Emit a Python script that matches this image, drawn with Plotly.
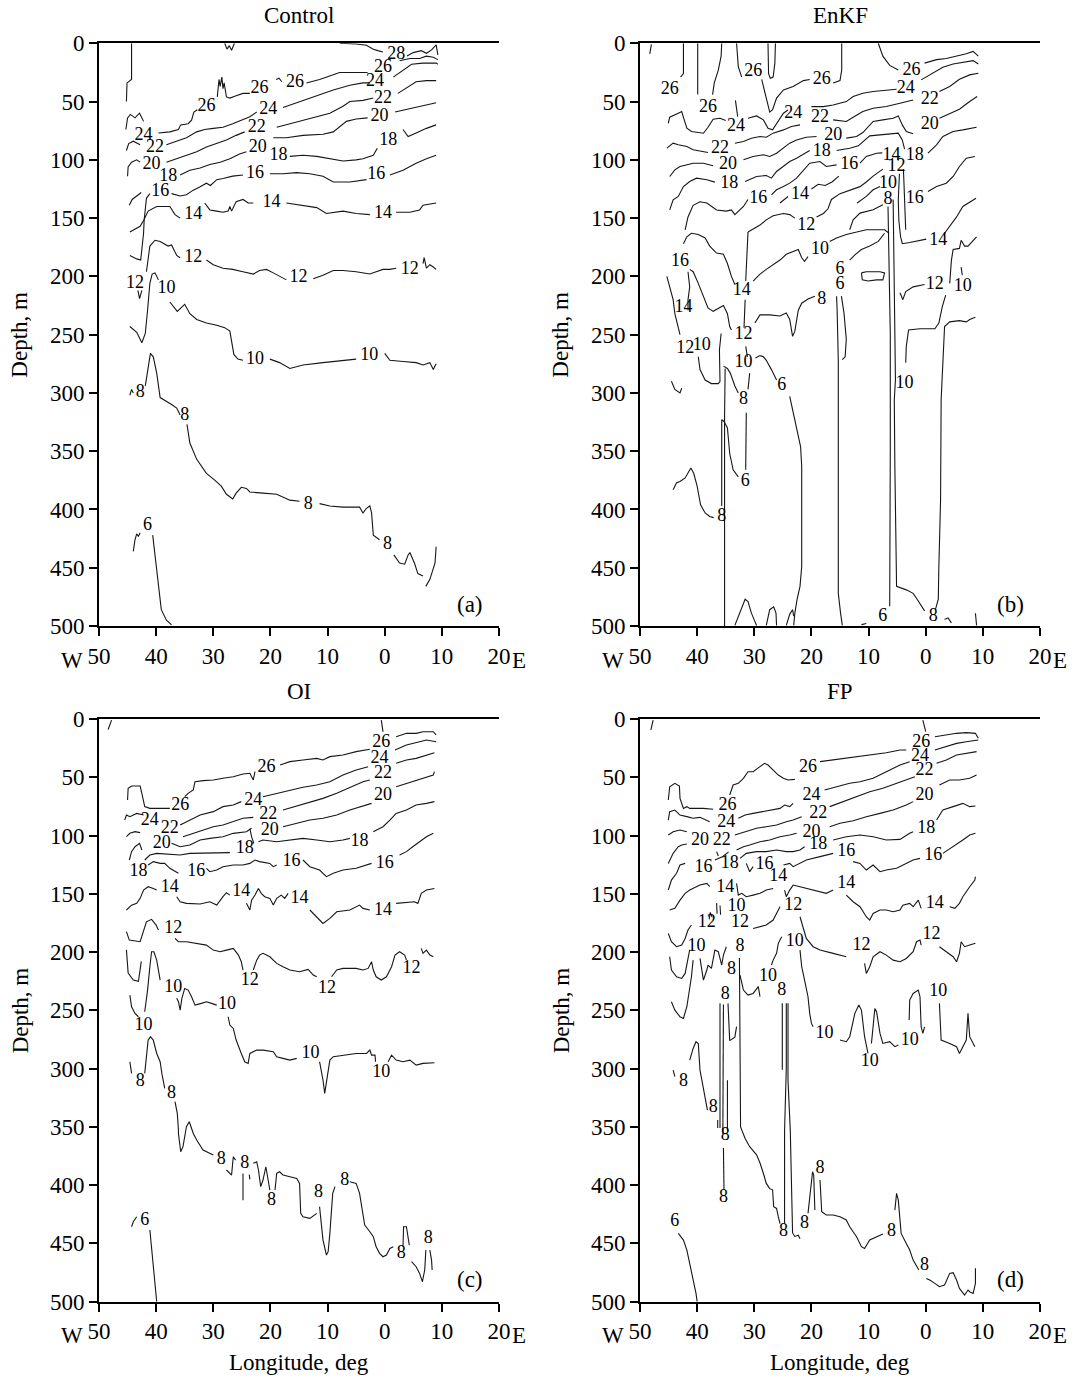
import plotly.graph_objects as go

# ---------------- Data: isotherm lines (longitude [E positive], depth m) ----------------
# Panel (a) Control
A_28 = [(-28,0),(-27.6,5),(-27.2,2),(-26.8,6),(-26.3,0), None,
        (-7.9,0),(-5,0.6),(-3.2,1.7),(-2,5.1),(-1.2,6.3),(-0.3,7.4), None,
        (3.9,10.9),(5,8),(6.4,6.3),(7.3,8.6),(8.2,5.7),(9,1.4),(9.3,10)]
A_26L = [(-44.3,0),(-44.3,31),(-45.1,34),(-45.2,50)]
A_26 = [(-45.3,74),(-45,64),(-44.5,61),(-43.7,64),(-42.9,60),(-42.2,67), None,
        (-39.6,77),(-37.6,76),(-36.1,74),(-35.7,70),(-34.4,69),(-33.8,66),(-33.4,59),(-32.8,57), None,
        (-29.3,46),(-29,31),(-28.8,37),(-28.5,29),(-28.3,39),(-28.1,34),(-27.7,46),(-27.1,47),(-26,45),(-24.8,43),(-23.6,43), None,
        (-19,31),(-18.5,30),(-18,33), None,
        (-13.7,34),(-11.4,31),(-9,27),(-7.9,25),(-5,25),(-3,25), None,
        (2.6,15),(4.4,13),(6.1,13),(7.3,11),(8.5,12),(9.3,14)]
A_24 = [(-45.2,92),(-44.8,86),(-44,84),(-42.8,87), None,
        (-38.2,87),(-36.4,84),(-34.7,81),(-32.9,76),(-31.5,74),(-30,73),(-28.3,72),(-26.6,69),(-24.8,65),(-23.6,63),(-22.4,59), None,
        (-17.8,55),(-15.4,51),(-13.1,47),(-10.8,43),(-9,40),(-6.1,36),(-3.8,34),(-2.6,34), None,
        (1.5,29),(3.2,23),(4.7,18),(6.7,17),(9,17),(9.3,18)]
A_22 = [(-45,114),(-44.9,106),(-44.3,102),(-43.4,100),(-42.8,102), None,
        (-38.2,102),(-36.4,99),(-34.7,96),(-32.9,93),(-31.2,89),(-29.4,86),(-27.7,83),(-26,79),(-24.5,76), None,
        (-18.9,72),(-16.6,69),(-14.3,66),(-11.9,63),(-9.6,60),(-7.3,54),(-6.1,50),(-3.8,49),(-2,47), None,
        (2.3,43),(4.1,37),(5.5,33),(7.3,32),(9,32)]
A_20 = [(-35.8,113),(-34.1,109),(-32.3,107),(-30.6,104),(-28.8,102),(-27.1,99),(-25.4,95),(-24.2,93), None,
        (-19.5,81),(-17.2,81),(-14.3,79),(-10.8,78),(-9,76),(-7.9,72),(-6.7,67),(-5,65),(-3,64), None,
        (1.8,59),(4.4,56),(6.7,53),(9,51)]
A_18 = [(-16.6,97),(-14.3,96),(-11.9,97),(-9.6,99),(-7.3,101),(-5,100),(-3.8,99),(-2,96),(-1.3,90), None,
        (3.2,74),(4.1,80),(5.5,77),(7.3,73),(9,70)]
A_16 = [(-44.6,182),(-43.4,185),(-42.7,186),(-42.5,177),(-42.2,163),(-42.1,152),(-41.9,140),(-41.7,133),(-41.1,129), None,
        (-37.3,129),(-35.8,131),(-34.7,130),(-33.5,126),(-32.3,123),(-31.2,120),(-30.5,122),(-29.4,117),(-28.3,116),(-26.6,114),(-24.8,113), None,
        (-20.1,112),(-17.8,112),(-15.4,111),(-13.1,112),(-10.8,114),(-9,119),(-6.1,119),(-3.2,117), None,
        (0.9,113),(3.2,109),(5.5,103),(7.3,99),(9,96)]
A_16B = [(-44.7,139),(-44.2,134),(-43.4,131),(-42.6,128)]
A_14 = [(-44.6,162),(-42.8,157),(-42.2,152),(-41.4,144),(-39.9,140),(-37.6,140),(-36.7,147),(-35.8,150), None,
        (-31.5,137),(-30.6,143),(-29.4,144),(-28.3,145),(-27.4,144),(-27.1,140),(-26.8,144),(-26,136),(-24.8,134),(-23.9,137),(-23,137), None,
        (-17.2,137),(-14.9,139),(-11.9,141),(-10.2,146),(-7.3,144),(-5,146),(-2.6,147), None,
        (2,145),(4.4,145),(6.1,143),(6.7,139),(9,137)]
A_12V = [(-43.2,212),(-42.9,219),(-42.5,212)]
A_12 = [(-41.7,196),(-41.4,184),(-41.1,174),(-40.2,169),(-39.3,170),(-37.9,174),(-37.3,173),(-36.4,182),(-35.8,184), None,
        (-31.2,186),(-30,190),(-28.3,193),(-26.6,194),(-24.8,196),(-23,198),(-21.9,195),(-20.7,194),(-19.5,197),(-18.4,200),(-17.2,203), None,
        (-12.5,202),(-10.8,199),(-9,195),(-7.3,195),(-5,196),(-2.6,198),(-1.5,196),(-0.3,194),(0.9,194),(2,193), None,
        (6.7,189),(6.9,184),(7.3,193),(7.9,190),(8.5,192),(9,194)]
A_10 = [(-44.6,243),(-43.4,248),(-42.5,257),(-41.9,249),(-41.5,229),(-41.1,206),(-40.7,198),(-40.2,197),(-39.6,203), None,
        (-37.6,222),(-36.3,230),(-35,224),(-34.1,232),(-32.9,237),(-31.2,240),(-29.4,242),(-28,244),(-27.1,247),(-26.8,257),(-26.4,267),(-25.7,271),(-24.8,272), None,
        (-20.1,271),(-18.4,274),(-16.6,279),(-14.3,276),(-10.8,274),(-7.3,272),(-5,271), None,
        (0,266),(0.9,272),(3.2,273),(5.5,274),(6.7,276),(7.9,274),(8.5,280),(9,275)]
A_8 = [(-44.6,302),(-44.3,297),(-44,300), None,
       (-41.9,294),(-41.3,274),(-41,266),(-40.5,269),(-39.9,283),(-39.3,304),(-38.2,307),(-37.3,310),(-36.4,313),(-35.8,319), None,
       (-34.6,327),(-34.1,343),(-32.9,357),(-31.2,369),(-29.7,375),(-28.6,380),(-27.7,387),(-26.6,391),(-26,386),(-25.1,381),(-24.2,382),(-23.6,385),(-21.3,386),(-18.9,387),(-16.6,392),(-14.9,393), None,
       (-11.4,395),(-9.6,397),(-7.3,398),(-4.4,398),(-3.8,403),(-3.2,399),(-2.6,397),(-2.3,403),(-2,422),(-0.9,426), None,
       (1.6,439),(2.6,446),(3.5,447),(4.1,439),(4.4,437),(5.2,446),(5.8,455),(6.7,457), None,
       (7.2,466),(7.9,460),(8.8,446),(9,432)]
A_6 = [(-44,436),(-43.7,426),(-43.4,421),(-43.1,423),(-42.8,420), None,
       (-40.6,422),(-40.2,440),(-39.6,466),(-39.1,486),(-38.2,495),(-37.3,499)]
A_LABELS = [("28",2.0,10),("26",-0.3,21),("24",-1.7,33),("22",-0.3,47),("20",-0.9,63),("18",0.6,83),
            ("16",-1.5,113),("14",-0.3,146),("12",4.4,194),("10",-2.7,268),("8",-13.4,396),("8",0.5,430),
            ("26",-31.2,54),("26",-21.9,39),("26",-15.7,34),("24",-42.2,79),("24",-20.4,57),("22",-40.2,89),
            ("22",-22.4,72),("20",-40.8,104),("20",-22.2,89),("18",-37.9,114),("18",-18.6,96),("16",-39.3,127),
            ("16",-22.7,112),("14",-33.5,147),("14",-19.8,137),("12",-43.7,206),("12",-33.5,184),("12",-15.1,201),
            ("10",-38.2,210),("10",-22.7,271),("8",-42.8,300),("8",-35,319),("6",-41.5,414)]

# Panel (b) EnKF
B_TOP = [(-48,1),(-48.3,9), None, (-42.4,0),(-42.4,26),(-42.9,29), None, (-39.9,0),(-39.9,44), None,
         (-35.7,0),(-35.8,11),(-36.3,23),(-37,34),(-37.3,44), None,
         (-27.6,0),(-27.5,26),(-27.2,30),(-26.7,29),(-26.4,17),(-26.3,0), None,
         (-33.3,49),(-32.9,63)]
B_26 = [(-33.1,0),(-32.8,20),(-32.2,29), None,
        (-28.7,31),(-27.9,46),(-27.3,59),(-26.8,57),(-26.1,47),(-24.9,40),(-23.2,37),(-21.4,32),(-20.3,31), None,
        (-16.2,34),(-15,32),(-14.7,23),(-14.7,0)]
B_26R = [(-8.3,0),(-7.5,11),(-6.3,19),(-4.8,23), None,
         (-0.2,17),(1.9,14),(3.6,13),(5.4,11),(7.1,9),(8.3,7),(9.2,11)]
B_24 = [(-45.05,68.6),(-44.8,63.4),(-43.3,60),(-42.7,58.6),(-42.3,65.1),(-41.8,72.9),(-41,75.7),(-38.9,77.2),(-38.1,72),(-37.2,65.1),(-36,64.3),(-35,66.3), None,
        (-31.1,64.3),(-29.6,62.3),(-28.4,65.7),(-27.6,72.9),(-26.8,74.3),(-26.1,68.6),(-24.9,60),(-24.1,57.2), None,
        (-20,54.3),(-17.9,54.3),(-16.2,52.9),(-13.9,50),(-12.7,45.7),(-11,42.9),(-9.2,41.4),(-6.9,40),(-5.1,39.4), None,
        (-0.8,31.4),(1.3,25.7),(3,20.6),(4.8,17.7),(6.5,16.3),(8.3,14.9),(9.2,17.7)]
B_22 = [(-45.3,90),(-44.2,85.7),(-43.3,87.1),(-41.8,88.6),(-40.7,91.4),(-39.2,92.9),(-38.1,93.7), None,
        (-33.4,85.7),(-31.9,84.3),(-30.5,81.4),(-29,80),(-27.9,80.6),(-26.7,77.1),(-24.9,74.3),(-23.5,71.4),(-22,70), None,
        (-16.2,65.7),(-13.9,67.1),(-12.7,63.4),(-11,58.6),(-9.2,55.7),(-6.9,54.3),(-4.5,51.4),(-2.2,48.6), None,
        (2.4,41.4),(4.2,37.1),(5.9,30.9),(7.7,27.1),(9.2,25.7)]
B_20 = [(-44.8,114.3),(-43.9,108.6),(-43,105.7),(-41.8,104.3),(-40.7,102.9),(-38.9,102.9),(-37.2,105.1), None,
        (-31.9,100),(-30.2,97.1),(-28.4,95.7),(-27.3,97.1),(-26.1,94.3),(-24.9,90),(-23.8,85.7),(-22.6,82.9),(-20.9,80.6),(-19.1,80), None,
        (-13.9,81.4),(-12.1,80),(-11,76.6),(-10.1,71.4),(-9.2,67.1),(-7.5,65.7),(-5.7,64.3),(-4.8,62.3),(-4.1,70),(-3.4,75.7),(-2.2,77.7), None,
        (2.4,64.3),(4.2,60.6),(5.9,56.6),(7.7,50),(9,45.7)]
B_18 = [(-44.8,142.9),(-44.2,134.3),(-43.3,131.4),(-42.4,122.9),(-41.3,118.6),(-40.1,115.7),(-38.3,117.1),(-36.9,119.1), None,
        (-31.6,118.6),(-29.6,114.3),(-27.9,113.4),(-27,115.7),(-26.1,110),(-24.9,105.7),(-23.8,101.4),(-22.6,98.6),(-21.4,94.9),(-20.3,92), None,
        (-15.6,92),(-13.3,90),(-11.8,88),(-10.7,82.9),(-9.8,79.4),(-8,78.6),(-6.3,78),(-4.8,77.1),(-4.1,82.9),(-3.7,90.9), None,
        (0.4,94.3),(1.9,87.1),(3,80),(4.8,75.7),(6.5,74.3),(8.3,72.9),(8.9,72)]
B_16 = [(-42.1,160),(-41.6,149),(-40.7,139),(-39.5,136),(-38.3,137),(-36.6,143),(-34.9,144),(-34,143),(-33.4,147),(-32.8,144),(-31.9,140),(-31.1,134), None,
        (-27,130),(-26.1,125.7),(-24.9,122.9),(-23.8,120),(-22.6,115.7),(-21.4,108.6),(-20.3,102.9),(-18.5,101.4),(-17.4,105.7),(-15.6,104.3), None,
        (-11.5,102.9),(-10.4,97.1),(-8.6,94.3),(-7.6,94)]
B_14 = [(-31.1,162),(-29,156),(-27.9,151.5),(-26.7,148),(-24.9,146),(-23.8,147),(-22.9,150), None,
        (-19.1,149),(-17.9,146),(-17.1,142),(-16.5,134),(-15,129),(-13.3,126),(-11.5,123),(-10.4,119),(-9.2,114),(-7.5,108), None,
        (-25.5,137),(-24.1,131.5), None, (-20,125),(-18.8,121),(-17.6,122),(-16.4,119),(-15.2,114), None,
        (-12,137),(-10.4,131.4),(-9.2,125.7),(-8,122.9), None,
        (-13.3,160),(-12.7,151.5),(-11.5,145.7),(-9.2,142.9),(-7.5,138.6)]
B_FRONT = [(-6.6,140),(-6.4,192),(-6.2,249),(-6.2,349),(-6.3,483), None,
           (-5.7,134),(-5.6,192),(-5.4,249),(-5.3,289),(-5.5,306),(-5.4,363),(-5.1,466),(-3.4,469),(-2.2,472),(-1.5,477),(-0.8,483),(-0.2,487), None,
           (-4.6,112),(-4.8,134),(-4.7,152),(-4.4,166),(-4.1,172),(-2.8,171),(0.1,168), None,
           (-3.9,108),(-3.7,130),(-3.5,160)]
B_RIGHT = [(3.3,163),(4.2,157),(5.4,149),(6.5,140),(7.7,136),(8.8,133), None,
           (0.4,127.1),(1.9,122.9),(3.6,120),(4.8,114.3),(5.9,105.7),(7.1,98.6),(8.6,97.1), None,
           (-4.5,214),(-4,220),(-3.5,213),(-2.2,209),(-0.2,207), None,
           (4.2,206),(4.5,186),(4.8,177),(5.9,176),(6.2,169),(6.8,174),(7.4,174),(8.3,169),(8.9,166), None,
           (6.2,192),(6.4,199), None,
           (-3.5,274),(-3.4,260),(-3,246),(-1,245),(1.6,245),(2.3,240),(2.9,226),(3.5,216), None,
           (1.7,486),(2.2,477),(2.3,449),(2.6,392),(2.7,306),(3,277),(3.3,243),(4.2,239),(5.9,238),(7.1,239),(7.7,237),(8.7,235)]
B_WEST = [(-42.4,172),(-41.8,166),(-41,163),(-39.8,164),(-38.6,167),(-37.8,174),(-36.6,180),(-35.4,181),(-34.7,189),(-34,200),(-33.4,207), None,
          (-45.3,200),(-44.8,209),(-44.2,220),(-43.9,232),(-43.3,246),(-43,250), None,
          (-41.3,194),(-40.7,196),(-39.8,206),(-38.9,217),(-38.1,227),(-37.2,230),(-36,227),(-35.4,225),(-34.7,232),(-34.3,243),(-34,246), None,
          (-41.6,196),(-41.3,209),(-41.6,220),(-41.6,229), None,
          (-39.8,269),(-39.5,280),(-38.6,289),(-37.5,292),(-36.3,292),(-36,290),(-36.1,263),(-35.8,249), None,
          (-44.5,290),(-43.9,297),(-43,300),(-42.7,296), None,
          (-35.4,277),(-34.7,279),(-34.2,283),(-33.4,294),(-32.8,300), None,
          (-31.1,162),(-31.2,177),(-31.5,204), None, (-31.6,220),(-31.8,244), None, (-31.5,260),(-31.2,269), None,
          (-30.8,283),(-31.1,297), None, (-31.4,317),(-31.4,335),(-31.5,366)]
B_MID = [(-30.2,204),(-29,198),(-27.9,194),(-26.7,190),(-25.5,186),(-24.4,181),(-23.2,179),(-22.3,177),(-21.7,184),(-21.2,187),(-20.6,183), None,
         (-16.8,170),(-15.6,167),(-13.9,164),(-12.1,162),(-10.4,160),(-8.6,160),(-7.2,160),(-6.4,163), None,
         (-29.9,240),(-29,233),(-27.3,233),(-25.5,234),(-24.4,231.5),(-23.8,237),(-23.3,251.5),(-22.9,247),(-22.3,229),(-21.7,223),(-20.6,219.5),(-19.4,217), None,
         (-13.3,186),(-12.4,181.5),(-11.25,177),(-9.8,174),(-8.3,170),(-7.2,163), None,
         (-11.25,197),(-10.4,196),(-8,196),(-7.2,197),(-7.5,203),(-8.6,203),(-10.1,204),(-11.1,203),(-11.25,197), None,
         (-15.6,217),(-15.5,229),(-15.3,272),(-15.3,349),(-15.3,472),(-14.9,489),(-14.6,499.5), None,
         (-14.75,217),(-14.3,231.5),(-13.9,254),(-14.1,269),(-14.6,271.5)]
B_DEEP = [(-44.2,383),(-43.6,377),(-43,376),(-42.1,373),(-41.1,364.5),(-40.6,369),(-40,380),(-39.4,396),(-38.6,403),(-37.8,406),(-37.1,407), None,
          (-35.7,397),(-35.7,335),(-35.7,323),(-35.3,324.5),(-34.7,330),(-34.3,352),(-33.7,366),(-32.8,372), None,
          (-35.1,279),(-35.2,320),(-35.2,500), None,
          (-29.8,270),(-29,268),(-28.4,269),(-27.9,272),(-27,280),(-26.1,289), None,
          (-23.8,303),(-23.2,317),(-22.5,332),(-21.9,346),(-21.7,363),(-21.7,449),(-22,466),(-22.5,477),(-22.9,489),(-23.1,499.5), None,
          (-33.4,499.5),(-32.5,489),(-31.6,477),(-31.1,479),(-30.5,489),(-29.9,496),(-29.6,499.5), None,
          (-27.9,499.5),(-27.3,486),(-26.6,483.6),(-26.2,489),(-26.1,499.5), None,
          (-24.4,499.5),(-23.8,490),(-23.3,486),(-23.1,491.6), None,
          (3.3,494.5),(3.9,493),(4.5,497.3), None, (8.7,489),(8.9,499.5), None, (-11.25,498.8),(-10.4,497.9)]
B_LABELS = [("26",-44.8,40),("26",-38.1,55),("24",-33.2,71),("22",-36,90),("20",-34.6,104),("18",-34.4,120),
            ("16",-29.3,133),("14",-22,130),("12",-20.9,156),("26",-30.2,24),("26",-18.2,31),("24",-23.2,60),
            ("22",-18.5,64),("20",-16.2,79),("18",-18.2,93),("16",-13.4,104),("14",-6,96),("18",-1.9,96),
            ("12",-5.1,106),("10",-6.6,120),("8",-6.6,134),("16",-1.9,133),("26",-2.5,23),("24",-3.5,39),
            ("22",0.7,48),("20",0.7,70),("16",-43,187),("14",-42.4,227),("12",-42.1,262),("10",-39.2,259),
            ("14",-32.2,212),("12",-31.9,250),("10",-31.9,274),("8",-31.9,306),("6",-25.2,294),("10",-18.5,177),
            ("6",-15,194),("6",-15,207),("8",-18.2,220),("14",2.2,169),("12",1.6,207),("10",6.5,209),
            ("10",-3.7,292),("8",-35.7,406),("6",-31.6,376),("8",1.3,492),("6",-7.5,492)]

# Panel (c) OI
C_TICKS = [(-48.4,9),(-47.8,1), None, (-0.6,1),(-0.5,6),(-0.3,11), None, (-23.6,94),(-23.3,101),(-22.9,107), None,
           (-24.8,390),(-24.8,413), None, (-23.7,391),(-23.6,395)]
C_26 = [(-45,69.5),(-44.9,59.5),(-44.3,57.5),(-42.8,57.5),(-42.5,63.8),(-42,75.2),(-41.1,76.7),(-37.6,76.7), None,
        (-35,66.7),(-34.4,63.8),(-33.5,60.9),(-33.2,53.8),(-31.8,52.9),(-30,52.3),(-28.3,50.9),(-26.5,49.5),(-24.8,47.2),(-23.6,46.6),(-23,52.3),(-22.7,45.2), None,
        (-18.3,39.5),(-16.6,36.6),(-14.3,35.2),(-11.9,33.8),(-10.8,35.2),(-9.6,32.3),(-7.3,30.9),(-5,28),(-2.6,26), None,
        (2,15.2),(3.8,12.3),(5.5,12.3),(6.7,10.9),(8.5,10.9),(9,13.7)]
C_24 = [(-45.5,86.7),(-45.2,82.4),(-44.6,83.8),(-43.4,81),(-42.2,82.4), None,
        (-35.8,91),(-34.1,86.7),(-32.3,82.4),(-30,79.5),(-28.3,75.2),(-26.5,73.8),(-25.1,70.9), None,
        (-21.3,66.7),(-18.9,63.8),(-16.6,60.9),(-14.3,58.6),(-11.9,56.6),(-9.6,53.8),(-7.3,48.1),(-5,43.8),(-2.9,40.9), None,
        (1.8,26.6),(3.8,22.3),(6.1,19.5),(7.3,18),(9,19.5)]
C_22 = [(-35.3,101),(-33.5,98.1),(-31.8,95.2),(-30,92.4),(-28.3,91),(-26.5,88.1),(-24.8,85.2),(-23,84.4), None,
        (-17.8,78.1),(-15.4,74.7),(-13.1,70.9),(-10.8,68.1),(-8.4,63.8),(-6.1,58.6),(-3.8,53.8),(-2.6,52.3), None,
        (2,38),(3.8,35.2),(5.5,33.8),(7.3,30.9),(8.7,28.9)]
C_20 = [(-45.2,101),(-44.6,98.1),(-43.7,96.7),(-42.8,97.5), None,
        (-37.3,106.7),(-35.8,109.6),(-34.1,108.1),(-32.3,103.8),(-30.6,102.4),(-28.3,101),(-26.5,98.1),(-24.2,96.7),(-23.3,93.8), None,
        (-17.8,92.4),(-15.4,89.5),(-13.1,86.7),(-10.8,85.2),(-8.4,82.4),(-6.1,78.1),(-3.8,74.7),(-2.3,72.4), None,
        (2,58.1),(3.8,55.2),(6.7,50.9),(8.5,48.1),(8.7,45.2)]
C_18 = [(-44.7,121),(-44.3,113.8),(-43.7,109.6),(-42.9,106.7),(-42.5,112.4), None,
        (-42,121),(-41.1,116.7),(-39.9,115.3),(-37.6,115.8),(-35.8,116.7),(-34.1,115.3),(-31.8,115.3),(-29.4,115.3),(-27.1,114.7), None,
        (-22.1,105.3),(-21.3,103.8),(-18.9,105.3),(-16.6,103.8),(-14.3,102.4),(-11.9,103.8),(-9.6,105.3),(-7.3,103.8),(-6.1,102.4), None,
        (-2,96.7),(-0.3,92.4),(0.9,86.7),(2,81),(3.8,78.1),(5.5,73.8),(7.3,72.4),(8.7,70.9)]
C_16 = [(-41.4,125.3),(-40.5,122.4),(-39.3,123.9),(-38.5,123.9),(-37.6,128.1),(-36.7,131),(-36.1,132.4), None,
        (-31.2,128.1),(-30.6,131),(-29.4,129.6),(-28.3,126.7),(-26.5,125.3),(-24.8,125.3),(-23.6,123.9),(-22.7,121),(-21.9,122.4),(-20.1,123.9),(-19.5,126.7),(-18.9,125.3), None,
        (-14.3,121),(-13.1,126.7),(-11.4,129.6),(-10.2,135.3),(-9,132.4),(-7.3,129.6),(-5,128.1),(-3.2,125.3),(-2.3,123.9), None,
        (2.6,116.7),(3.8,113.8),(4.9,109.6),(6.1,105.3),(7.3,101),(8.5,98.1)]
C_14 = [(-45.2,163.9),(-44.3,159.7),(-43.4,158.2),(-42.8,153.9),(-42.2,146.8),(-41.4,143.9),(-40.5,145.4),(-39.9,146.8), None,
        (-36.4,152.5),(-35.8,156.8),(-34.7,158.2),(-33.5,158.2),(-32.3,158.8),(-30.6,156.8),(-29.4,159.7),(-28.3,152.5),(-27.7,149.1),(-27.1,151.1), None,
        (-24.2,158.2),(-23.6,163.9),(-23.3,155.4),(-22.7,151.1),(-22.1,145.4),(-21.6,149.6),(-21,152.5),(-20.1,153.9),(-19.5,159.7),(-18.9,153.9),(-18.1,151.1),(-17.5,153.9),(-16.9,149.6), None,
        (-13.1,163.9),(-11.9,169.7),(-10.8,175.4),(-9.6,171.1),(-8.4,165.4),(-6.1,163.9),(-5,161.1),(-4.4,159.7),(-3.8,162.5),(-2.6,163.9), None,
        (2,158.2),(3.8,157.7),(5.2,156.8),(5.8,158.2),(6.4,149.6),(7.3,146.8),(8.7,145.4)]
C_12 = [(-45.2,182.5),(-44.7,189.7),(-42.8,191.1),(-42.2,181.1),(-41.7,174),(-40.8,171.9),(-40,176.8),(-39.6,181.1), None,
        (-36.7,188.3),(-36.1,191.1),(-34.7,191.1),(-32.9,192.5),(-31.2,194),(-30,198.3),(-28.8,199.7),(-27.7,198.3),(-26.5,196.8),(-25.6,202.6),(-25.1,208.3),(-24.8,215.4), None,
        (-23,215.4),(-22.4,206.9),(-21.9,202.6),(-21.3,201.1),(-20.1,204),(-18.9,209.7),(-17.8,212.6),(-16.6,215.4),(-14.9,216.9),(-13.4,214.9),(-12.5,219.7),(-11.9,221.2), None,
        (-9.3,221.2),(-8.4,215.4),(-7.3,214),(-5,214),(-3.8,215.4),(-2.9,214),(-2.3,208.3),(-2,215.4),(-1.5,221.2),(-0.6,224),(0.3,221.2),(1.2,212.6),(1.8,202.6),(2.6,199.7),(3.5,202.6),(3.8,206.9), None,
        (6.4,196.8),(6.7,201.1),(7.3,198.3),(7.9,202.6),(8.5,204)]
C_10 = [(-45.2,198),(-44.9,218),(-44,224),(-43.1,225),(-42.6,208), None,
        (-44.6,236.9),(-44.3,246.9),(-43.7,252.6),(-43.1,255.5), None,
        (-42,251.2),(-41.5,232.6),(-41.1,212.6),(-40.8,199.7),(-40.4,199.7),(-39.9,206.9),(-39.3,224), None,
        (-36.4,239.7),(-36.1,242.6),(-35.8,249.8),(-35.5,239.7),(-35,231.2),(-34.4,232.6),(-33.8,238.3),(-33.2,245.5),(-32.1,244),(-31.2,242.6),(-30.3,244),(-29.4,245.5), None,
        (-27.4,255.5),(-27.1,262.6),(-26.5,265.5),(-26,275.5),(-25.1,287),(-24.5,294.1),(-23.9,295.5),(-23.6,287),(-22.4,284.1),(-21.3,284.1),(-19.5,285.5),(-18.9,289.8),(-17.8,291.2),(-16.6,292.7),(-15.4,291.2), None,
        (-11.4,294.1),(-10.8,309.8),(-10.5,321.3),(-10.1,309.8),(-9.6,292.7),(-9,289.8),(-7.3,288.4),(-5,287),(-3.2,287),(-2.6,284.1),(-2.3,288.4),(-1.7,288.4),(-1.6,294.1), None,
        (0.6,294.1),(1.2,288.4),(2,292.7),(3.2,294.1),(4.4,292.7),(5.5,297),(6.7,295.5),(8.7,294.9)]
C_8 = [(-44.6,294.1),(-44.3,304.1), None,
       (-42,304.1),(-41.4,275.5),(-41,272.6),(-40.5,275.5),(-39.9,287),(-39.3,294.1),(-39,304.1),(-38.5,317), None,
       (-36.7,328.4),(-36.3,338.4),(-36.1,352.7),(-36.1,355.6),(-35.7,371.3),(-35.3,367),(-34.7,349.9),(-34.2,345.6),(-33.5,355.6),(-32.9,361.3),(-31.8,369.9),(-30.6,372.7),(-30,374.2), None,
       (-27.7,387),(-26.8,391.3),(-26.5,375.6),(-26.1,378.5), None,
       (-23,381.3),(-22.4,379.9),(-22.1,387),(-21.7,401.3),(-21.3,395.6),(-20.8,384.2),(-20.4,395.6),(-20.1,404.2), None,
       (-19.2,404.2),(-18.9,389.9),(-18.4,388.5),(-17.8,391.3),(-16.6,392.8),(-15.4,394.2),(-14.9,398.5),(-14.7,424.2),(-14.3,427.1),(-13.1,428.5),(-11.9,424.2), None,
       (-11.4,418.5),(-10.8,447.1),(-10.2,460),(-9.9,457.1),(-9.6,441.4),(-9.1,407.1),(-8.7,401.3), None,
       (-6.1,397.1),(-5,398.5),(-4.4,407.1),(-3.8,424.2),(-3.5,434.2),(-2.6,440),(-2,444.2),(-1.5,452.8),(-0.9,458.5),(-0.3,461.4),(0.3,460),(0.9,454.3),(1.5,452.8), None,
       (3.2,452.8),(3.3,435.7),(3.8,435.7),(4.1,444.2),(4.3,451.4), None,
       (4.7,465.7),(5.5,470),(6.1,475.7),(6.6,482.9),(7,472.8),(7.2,455.7), None,
       (7.9,455.7),(8.2,464.3),(8.3,472.8)]
C_6 = [(-44.3,435.7),(-44,431.4),(-43.4,427.1), None,
       (-41.1,438.5),(-40.8,452.8),(-40.5,467.1),(-40.2,481.4),(-39.9,500)]
C_LABELS = [("26",-35.8,74),("26",-20.7,42),("26",-0.6,20),("24",-41.1,87),("22",-37.6,94),("24",-23,70),
            ("24",-0.9,34),("22",-20.4,82),("22",-0.3,47),("20",-39,107),("20",-20.1,96),("20",-0.3,66),
            ("18",-43.1,131),("18",-24.5,111),("18",-4.4,105),("16",-33,131),("16",-16.3,122),("16",0,124),
            ("14",-37.6,145),("14",-25.1,148),("14",-14.9,154),("14",-0.3,164),("12",-37,180),("12",-23.6,224),
            ("12",-10.1,231),("12",4.7,214),("10",-42.2,263),("10",-37,230),("10",-27.6,245),("10",-13,287),
            ("10",-0.6,303),("8",-42.8,311),("8",-37.3,321),("8",-28.6,378),("8",-24.5,381),("8",-19.8,413),
            ("8",-11.6,406),("8",-7,396),("8",2.9,459),("8",7.6,446),("6",-42,430)]

# Panel (d) FP
D_TICKS = [(-48.1,9.4),(-47.7,0.9), None, (-0.5,0.9),(-0.3,6),(0,10.9), None,
           (-36.6,158),(-36.5,167), None, (-36,160),(-35.9,168), None, (-36.4,344),(-36.4,351)]
D_26 = [(-45.05,69.5),(-44.8,58.1),(-43.9,55.2),(-43.1,57.5),(-43,68.1),(-42.4,76.7),(-41.8,75.2),(-41.3,76.7),(-38.9,76.7),(-37.2,77.5), None,
        (-34.3,65.2),(-33.7,56.6),(-32.8,55.2),(-31.9,50.9),(-31.1,45.2),(-30.2,45.2),(-29,40.9),(-28.2,38),(-27.6,39.5),(-26.7,43.8),(-25.8,48.1),(-24.9,50.9),(-24.1,52.3),(-22.9,51.8), None,
        (-18.5,36.6),(-16.2,35.2),(-13.9,33.8),(-11.5,32.3),(-9.2,30.9),(-6.9,28.9),(-4.5,26.6),(-3.4,26.6), None,
        (1.6,15.2),(3.6,13.7),(5.4,12.3),(7.1,11.7),(8.7,12.3),(9.2,16.6)]
D_24 = [(-45.05,86.7),(-44.8,79.5),(-43.9,78.1),(-43,82.4),(-41.8,83.8),(-40.7,85.2),(-39.5,84.4),(-37.8,88.1), None,
        (-32.8,85.2),(-31.6,82.4),(-30.2,81),(-28.4,79.5),(-26.7,78.1),(-25.5,76.7),(-24.7,73.8),(-23.8,75.2),(-23.2,72.4), None,
        (-17.7,60.9),(-15.6,58.1),(-13.3,55.2),(-11.5,53.8),(-9.2,50.9),(-6.9,45.2),(-4.5,39.5),(-2.8,36.6), None,
        (1.6,26.6),(3.6,23.7),(5.4,20.9),(7.1,19.5),(9.2,18)]
D_22 = [(-45.05,99.5),(-44.2,96.7),(-43,95.2),(-41.8,96.7), None,
        (-33.4,99.5),(-31.4,96.7),(-29.6,93.8),(-27.9,92.4),(-26.1,91),(-24.4,88.1),(-23.2,86.7),(-21.7,83.8), None,
        (-16.8,75.2),(-14.5,70.9),(-12.1,66.7),(-9.8,62.4),(-7.5,59.5),(-5.1,55.2),(-2.8,50.9),(-1.9,49.5), None,
        (1.9,38),(3.6,35.2),(5.4,30.9),(7.1,29.5),(8.9,28)]
D_20 = [(-45.05,123.9),(-44.2,115.3),(-43.3,109.6),(-42.7,108.1),(-41.8,107.3), None,
        (-33.1,112.4),(-31.9,109.6),(-30.8,108.1),(-29,105.3),(-27.3,103.8),(-25.5,101),(-23.8,99.5),(-22.6,98.1), None,
        (-16.8,92.4),(-15,89.5),(-12.7,87.3),(-10.4,83.8),(-8,81),(-5.7,78.1),(-3.4,73.8),(-2.2,70.9), None,
        (2.4,56.6),(4.2,52.3),(5.9,52.3),(7.7,50.9),(8.9,48.1)]
D_18 = [(-36.6,113.8),(-36.3,117.6), None,
        (-32.5,119.6),(-31.4,115.3),(-29.6,113.8),(-27.9,113.8),(-26.1,112.4),(-24.4,113.8),(-23.2,113.8),(-22,112.4),(-21.2,109.6), None,
        (-16.2,103.8),(-13.9,101),(-11.5,99.5),(-9.2,101),(-6.9,103.8),(-4.5,103.3),(-2.8,98.1),(-2.2,96.7), None,
        (1.9,86.7),(3,78.1),(4.8,75.2),(6.5,72.4),(7.7,75.2),(8.7,74.7)]
D_16 = [(-45.05,146.7),(-44.5,138.2),(-43.6,132.4),(-43,125.3),(-42.1,123.9), None,
        (-36.9,121),(-35.5,118),(-34.5,114), None,
        (-31.4,123.9),(-30.8,131),(-30.2,126.7), None,
        (-24.9,125.3),(-23.8,123.9),(-23.2,126.7),(-22,123.9),(-20.9,121),(-18.5,118.1),(-16.2,115.3), None,
        (-12.7,122.4),(-11.5,123.9),(-10.4,129.6),(-9.2,125.3),(-8,131),(-6.9,129.6),(-5.1,128.1),(-3.4,123.9),(-2.2,121),(-1,119.6), None,
        (3,115.3),(4.8,109.6),(6.5,103.8),(7.7,99.5),(8.7,98.1)]
D_14 = [(-44.8,163.9),(-43.9,162.5),(-43,155.4),(-42.1,149.6),(-41.3,146.8),(-39.5,142.5),(-38.3,141.1),(-37.8,143.9), None,
        (-33.1,141.1),(-32.8,151.1),(-32.2,149.6),(-31.4,152.5),(-30.2,151.1),(-29,149.6),(-27.9,146.8),(-26.7,145.4), None,
        (-24.7,146.8),(-24.4,152.5),(-23.8,146.8),(-23.2,142.5),(-22,143.9),(-20.9,145.4),(-19.7,146.8),(-18.5,148.2),(-17.4,149.6),(-16.2,146.8), None,
        (-13.9,151.1),(-12.7,156.8),(-11.5,161.1),(-10.4,169.7),(-9.8,172.5),(-9.2,166.8),(-8,163.9),(-6.9,163.9),(-5.7,165.4),(-4.5,163.9),(-4,159.7),(-2.8,158.2),(-2.2,161.1),(-1.3,155.4),(-0.8,162.5), None,
        (4.2,161.1),(5.1,162.5),(5.9,158.2),(6.5,152.5),(7.7,143.9),(8.6,138.2),(8.7,135.3)]
D_12 = [(-45.05,184),(-44.5,191.1),(-43.6,195.4),(-42.7,194),(-42.1,188.3),(-41.6,181.1),(-41,176.8), None,
        (-37.9,172),(-37.7,166),(-37.4,170), None,
        (-30.2,179.7),(-29,178.2),(-27.9,176.8),(-26.7,172.5),(-26.1,166.8),(-25.5,161.1), None,
        (-22,169.7),(-21.7,175.4),(-20.9,188.3),(-19.7,195.4),(-18.5,198.3),(-16.2,201.1),(-13.9,204), None,
        (-10.7,209.7),(-10.4,218.3),(-9.8,212.6),(-9.2,204),(-8,199.7),(-6.9,202.6),(-5.7,206.9),(-4.5,208.3),(-3.4,205.5),(-2.2,199.7),(-1.6,191.1),(-1,189.7),(-0.8,194), None,
        (2.4,195.4),(3.6,199.7),(4.8,204),(5.4,208.3),(5.9,201.1),(6.2,191.1),(6.8,195.4),(7.7,194),(8.7,192.5)]
D_10 = [(-44.8,204),(-44.5,215.4),(-43.6,221.2),(-42.7,222.6),(-42.1,218.3),(-41.6,206.9),(-41.3,198), None,
        (-44.5,242.6),(-43.9,249.8),(-43,255.5),(-42.4,256.9),(-41.8,246.9),(-41.3,232.6),(-41,221.2),(-40.7,206.9), None,
        (-39.5,205.4),(-39.2,215.4),(-38.9,224),(-38.3,215.4),(-38.1,211.1),(-37.5,214),(-36.9,198.3),(-36.3,199.7),(-36,205.4),(-35.7,211.1),(-35.4,202.6),(-34.9,195.4), None,
        (-32.5,219.7),(-31.9,232.6),(-31.1,236.9),(-30.2,235.5),(-29.3,229.7),(-29,238.3), None,
        (-27,211.1),(-26.7,206.9),(-26.1,201.1),(-25.8,192.5),(-25.2,186.8), None,
        (-22,198.3),(-21.7,212.6),(-21.2,224),(-20.6,238.3),(-20.3,252.6),(-20,261.2),(-19.7,264.1), None,
        (-15,275.5),(-13.9,276.9),(-13.3,272.6),(-12.4,252.6),(-11.7,245.5),(-11.25,249.8),(-10.7,272.6),(-10.1,287), None,
        (-9.5,278.4),(-8.9,248.4),(-8.6,251.2),(-8,269.8),(-7.5,278.4),(-6.3,276.9),(-5.4,281.2),(-4.8,279.8), None,
        (-2.9,258.3),(-2.8,241.2),(-2.2,235.5),(-1.3,232.6),(-1,238.3),(-0.8,264.1),(-0.5,269.8),(-0.2,264.1), None,
        (2.4,244),(2.7,275.5),(4.2,278.4),(5.4,281.2),(5.9,287),(6.5,281.2),(7.1,275.5),(7.4,252.6),(7.7,272.6),(8.6,281.2)]
D_VERT = [(-36,244),(-36,300),(-36,351), None, (-35.4,245),(-35.4,300),(-35.5,356), None,
          (-34.7,310),(-34.7,353), None, (-34.6,244),(-34.3,276),(-33.4,273),(-33.1,264), None,
          (-35.4,368),(-35.3,404), None,
          (-32.6,205),(-32.5,281),(-32.4,350),(-31.6,360),(-30.8,367),(-29.6,374),(-29,381),(-28.4,390),(-27.9,398.5),(-27.3,403),(-26.8,404),(-26.6,418.5),(-26.1,420),(-25.8,427),(-25.5,433), None,
          (-25.1,244),(-25.1,301), None, (-24.4,244),(-24.4,300),(-24.7,353),(-24.7,433), None,
          (-24.1,244),(-24.1,310),(-23.7,353),(-23.5,396),(-23.3,441),(-22.9,444),(-22.3,443),(-22,446)]
D_8 = [(-44.2,301.3),(-43.9,306.9), None,
       (-41.3,292.7),(-40.7,282.7),(-40.2,276.9),(-39.8,278.4),(-39.5,301.3),(-39.05,312.7),(-38.6,327),(-38.2,335.6), None,
       (-20.6,424.2),(-20.2,404.2),(-19.8,388.5),(-19.6,391.3),(-19.4,421.4), None,
       (-18.5,395.6),(-18.2,422.8),(-17.4,425.6),(-16.2,425.6),(-15,427.1),(-13.9,429.9),(-13.3,435.7),(-12.1,444.2),(-11.25,452.8),(-10.7,454.3),(-9.8,447.1),(-8.6,444.2),(-7.5,441.9), None,
       (-5.4,421.4),(-5.1,407.1),(-4.8,412.8),(-4.3,441.4),(-3.4,450),(-2.8,455.7),(-2.2,464.3),(-1.6,470),(-1.2,472.8), None,
       (0.1,480),(0.7,481.4),(1.6,484.3),(2.4,487.1),(3.3,485.7),(4.2,475.7),(4.8,475.1),(5.4,481.4),(5.9,488.6),(6.5,492.9),(6.8,494.3),(7.4,490),(7.7,491.4),(8.3,492.9),(8.7,484.3),(8.7,471.4)]
D_6 = [(-43.3,441.4),(-42.4,447.1),(-41.8,455.7),(-41.3,467.1),(-40.7,481.4),(-40.2,492.9),(-40,500)]
D_LABELS = [("26",-34.7,74),("26",-20.6,42),("26",-0.8,20),("24",-34.9,89),("24",-20,66),("24",-1,32),
            ("20",-39.5,104),("22",-35.7,104),("22",-18.8,81),("22",-0.2,44),("20",-20,97),("20",-0.2,66),
            ("18",-34.3,124),("18",-18.8,108),("18",0.1,94),("16",-38.9,127),("16",-28.2,125),("16",-13.9,114),
            ("16",1.3,117),("14",-35.1,145),("14",-25.8,135),("14",-13.9,141),("14",1.6,158),("12",-38.3,175),
            ("12",-32.5,175),("12",-23.2,160),("12",-11.25,194),("12",1,185),("10",-33.1,161),("10",-40.1,195),
            ("8",-32.5,195),("8",-34,215),("8",-35.1,236),("10",-27.6,221),("8",-25.2,233),("10",-22.9,191),
            ("10",-17.7,270),("10",-9.8,294),("10",-2.8,276),("10",2.2,234),("8",-42.4,311),("8",-37.2,333),
            ("8",-35.1,357),("8",-35.4,411),("8",-24.9,440),("8",-21.2,433),("8",-18.5,386),("8",-6,440),
            ("8",-0.2,469),("6",-43.9,431)]

X_TICKS = [-50, -40, -30, -20, -10, 0, 10, 20]
X_TICK_TEXT = ["50", "40", "30", "20", "10", "0", "10", "20"]
Y_TICKS = [0, 50, 100, 150, 200, 250, 300, 350, 400, 450, 500]
TITLES = ["Control", "EnKF", "OI", "FP"]
TAGS = ["(a)", "(b)", "(c)", "(d)"]

PANELS = [
    ([A_28, A_26L, A_26, A_24, A_22, A_20, A_18, A_16, A_16B, A_14, A_12V, A_12, A_10, A_8, A_6], A_LABELS),
    ([B_TOP, B_26, B_26R, B_24, B_22, B_20, B_18, B_16, B_14, B_FRONT, B_RIGHT, B_WEST, B_MID, B_DEEP], B_LABELS),
    ([C_TICKS, C_26, C_24, C_22, C_20, C_18, C_16, C_14, C_12, C_10, C_8, C_6], C_LABELS),
    ([D_TICKS, D_26, D_24, D_22, D_20, D_18, D_16, D_14, D_12, D_10, D_VERT, D_8, D_6], D_LABELS),
]

# ---------------- Figure ----------------
W, H = 1078, 1380
FONT = "Liberation Serif, Times New Roman, serif"

fig = go.Figure()

def seg_xy(lines):
    xs, ys = [], []
    for ln in lines:
        for p in ln:
            if p is None:
                xs.append(None); ys.append(None)
            else:
                xs.append(p[0]); ys.append(p[1])
        xs.append(None); ys.append(None)
    return xs, ys

for i, (lines, labels) in enumerate(PANELS):
    ax = "" if i == 0 else str(i + 1)
    xs, ys = seg_xy(lines)
    fig.add_trace(go.Scatter(x=xs, y=ys, mode="lines", connectgaps=False,
                             line=dict(color="#161616", width=1.1),
                             xaxis="x" + ax, yaxis="y" + ax, hoverinfo="skip"))
    fig.add_trace(go.Scatter(x=[l[1] for l in labels], y=[l[2] for l in labels],
                             text=[l[0] for l in labels], mode="text",
                             textfont=dict(family=FONT, size=18, color="black"),
                             xaxis="x" + ax, yaxis="y" + ax, hoverinfo="skip"))

# plot-area pixel boxes
COLS = [(99, 499), (640, 1040)]
ROWS = [(43.3, 626), (719, 1301.7)]

layout = dict(width=W, height=H, margin=dict(l=0, r=0, t=0, b=0, pad=0, autoexpand=False),
              autosize=False,
              paper_bgcolor="white", plot_bgcolor="white", showlegend=False,
              font=dict(family=FONT, color="black"))
annotations = []
for i in range(4):
    r, c = divmod(i, 2)
    x0, x1 = COLS[c]
    y0, y1 = ROWS[r]
    ax = "" if i == 0 else str(i + 1)
    layout["xaxis" + ax] = dict(domain=[x0 / W, x1 / W], anchor="y" + ax, range=[-50, 20],
                                tickmode="array", tickvals=X_TICKS, ticktext=X_TICK_TEXT,
                                ticks="outside", ticklen=8, tickwidth=2, tickcolor="black",
                                showline=True, linewidth=2, linecolor="black", mirror=True,
                                showgrid=False, zeroline=False, automargin=False,
                                tickfont=dict(family=FONT, size=23, color="black"))
    layout["yaxis" + ax] = dict(domain=[1 - y1 / H, 1 - y0 / H], anchor="x" + ax, range=[500, 0],
                                tickmode="array", tickvals=Y_TICKS,
                                ticks="outside", ticklen=8, tickwidth=2, tickcolor="black",
                                showline=True, linewidth=2, linecolor="black",
                                showgrid=False, zeroline=False, automargin=False,
                                tickfont=dict(family=FONT, size=23, color="black"))
    cx = (x0 + x1) / 2
    annotations.append(dict(text=TITLES[i], x=cx / W, y=1 - (y0 - 28) / H, xref="paper", yref="paper",
                            showarrow=False, xanchor="center", yanchor="middle",
                            font=dict(family=FONT, size=23)))
    annotations.append(dict(text=TAGS[i], x=(x1 - 14) / W, y=1 - (y1 - 22) / H, xref="paper", yref="paper",
                            showarrow=False, xanchor="right", yanchor="middle",
                            font=dict(family=FONT, size=23)))
    annotations.append(dict(text="Depth, m", x=(x0 - 79) / W, y=1 - ((y0 + y1) / 2) / H, xref="paper", yref="paper",
                            showarrow=False, textangle=-90, xanchor="center", yanchor="middle",
                            font=dict(family=FONT, size=23)))
    annotations.append(dict(text="W", x=(x0 - 27) / W, y=1 - (y1 + 34) / H, xref="paper", yref="paper",
                            showarrow=False, xanchor="center", yanchor="middle",
                            font=dict(family=FONT, size=23)))
    annotations.append(dict(text="E", x=(x1 + 20) / W, y=1 - (y1 + 34) / H, xref="paper", yref="paper",
                            showarrow=False, xanchor="center", yanchor="middle",
                            font=dict(family=FONT, size=23)))
    if r == 1:
        annotations.append(dict(text="Longitude, deg", x=cx / W, y=1 - 1362 / H, xref="paper", yref="paper",
                                showarrow=False, xanchor="center", yanchor="middle",
                                font=dict(family=FONT, size=23)))
layout["annotations"] = annotations
fig.update_layout(**layout)

fig.write_html("out.html")
